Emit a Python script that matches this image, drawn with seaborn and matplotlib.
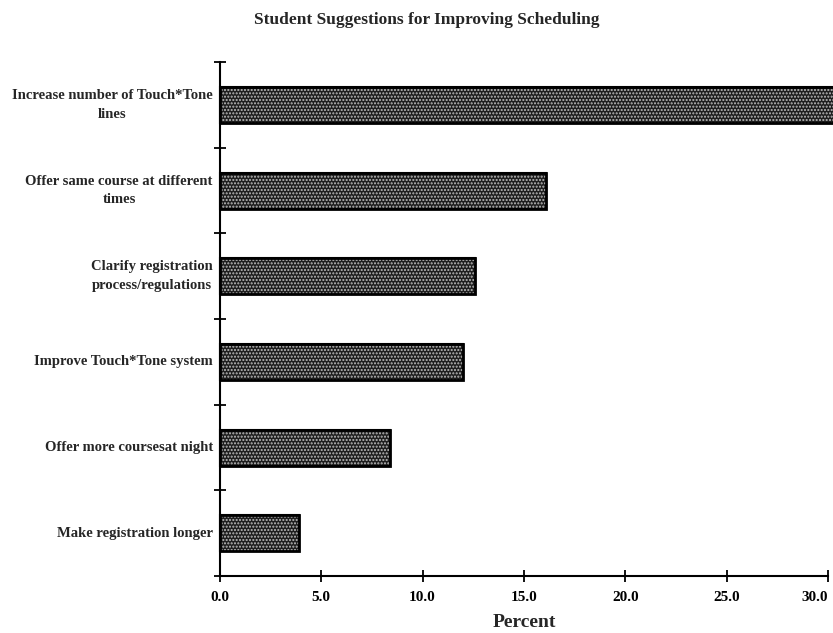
import matplotlib
matplotlib.use("Agg")
import matplotlib.pyplot as plt
from matplotlib.patches import Rectangle
import seaborn as sns
import pandas as pd

# Survey results: share of students giving each suggestion
suggestions = [
    "Increase number of Touch*Tone\nlines",
    "Offer same course at different\ntimes",
    "Clarify registration\nprocess/regulations",
    "Improve Touch*Tone system",
    "Offer more coursesat night",
    "Make registration longer",
]
percent = [30.3, 16.1, 12.6, 12.0, 8.4, 3.9]
x_ticks = [0, 5, 10, 15, 20, 25, 30]
x_tick_labels = ["0.0", "5.0", "10.0", "15.0", "20.0", "25.0", "30.0"]

df = pd.DataFrame({"Suggestion": suggestions, "Percent": percent})

sns.set_theme(style="white")
plt.rcParams["font.family"] = ["Liberation Serif", "DejaVu Serif"]
plt.rcParams["font.weight"] = "bold"

fig = plt.figure(figsize=(8.33, 6.33), dpi=100)
ax = fig.add_axes([0.264, 0.09, 0.730, 0.812])

sns.barplot(data=df, x="Percent", y="Suggestion", orient="h",
            color="#1e1e1e", edgecolor="black", linewidth=1.5,
            width=0.42, saturation=1, ax=ax)

# stipple texture laid over each bar
for p in list(ax.patches):
    p.set_clip_on(False)
    ax.add_patch(Rectangle(p.get_xy(), p.get_width(), p.get_height(),
                           fill=False, hatch=".....", edgecolor="#bdbdbd",
                           linewidth=0, clip_on=False, zorder=p.get_zorder() + 0.1))
    ax.add_patch(Rectangle(p.get_xy(), p.get_width(), p.get_height(),
                           fill=False, edgecolor="black", linewidth=2.0,
                           clip_on=False, zorder=p.get_zorder() + 0.2))

ax.set_xlim(0, 30)
ax.set_ylim(len(suggestions) - 0.5, -0.5)
ax.set_xticks(x_ticks)
ax.set_xticklabels(x_tick_labels, fontsize=11, fontweight="bold")
# keep the last value label inside the canvas
ax.get_xticklabels()[-1].set_horizontalalignment("right")
ax.get_xticklabels()[-1].set_x(30.1)
ax.set_yticks([i - 0.5 for i in range(len(suggestions) + 1)])
ax.set_yticklabels([])
for i, s in enumerate(suggestions):
    ax.text(-0.35, i, s, ha="right", va="center", multialignment="center",
            fontsize=10.5, fontweight="bold", linespacing=1.55)

ax.tick_params(axis="both", direction="inout", length=8, width=1.3,
               colors="black", left=True, bottom=True)
ax.tick_params(axis="x", pad=7)

for side in ["top", "right"]:
    ax.spines[side].set_visible(False)
for side in ["left", "bottom"]:
    ax.spines[side].set_color("black")
    ax.spines[side].set_linewidth(1.5)

ax.set_xlabel("Percent", fontsize=14, fontweight="bold", labelpad=7)
ax.set_ylabel("")

fig.text(0.512, 0.969, "Student Suggestions for Improving Scheduling",
         ha="center", va="center", fontsize=12.5, fontweight="bold")

fig.savefig("out.png", dpi=100, facecolor="white")
